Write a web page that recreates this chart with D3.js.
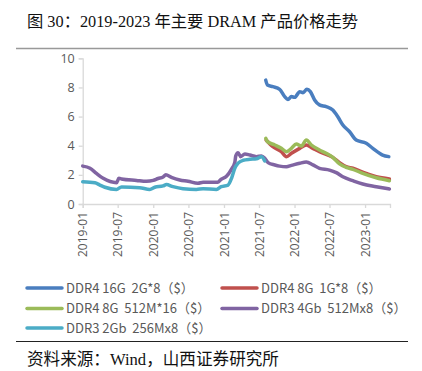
<!DOCTYPE html>
<html>
<head>
<meta charset="utf-8">
<script src="https://cdn.jsdelivr.net/npm/d3@7"></script>
<style>
  body { margin: 0; background: #fff; }
  text { white-space: pre; }
</style>
</head>
<body>
<div class="d3Chart"></div>
<script>
// 系列名称与颜色
var seriesNames = ["DDR4 16G  2G*8（$）", "DDR4 8G  1G*8（$）", "DDR4 8G  512M*16（$）", "DDR3 4Gb  512Mx8（$）", "DDR3 2Gb  256Mx8（$）"];
var bColor = ["#4a7ebf", "#c0504d", "#9bbb59", "#8064a2", "#4bacc6"];

// 各系列数据 [日期, 价格]
var ddr4_16g = [
  ["2021-08-05", 8.5], ["2021-08-14", 8.17], ["2021-09-11", 8.05], ["2021-10-16", 7.87],
  ["2021-11-11", 7.37], ["2021-11-28", 7.18], ["2021-12-16", 7.37], ["2022-01-02", 7.32],
  ["2022-01-28", 7.71], ["2022-02-14", 7.64], ["2022-03-06", 7.87], ["2022-03-24", 7.71],
  ["2022-04-15", 7.14], ["2022-05-10", 6.8], ["2022-06-14", 6.68], ["2022-07-18", 6.45],
  ["2022-08-13", 5.99], ["2022-09-08", 5.42], ["2022-10-13", 4.96], ["2022-11-16", 4.39],
  ["2023-01-07", 4.17], ["2023-02-10", 3.82], ["2023-04-02", 3.36], ["2023-05-04", 3.25]
];
var ddr4_8g_1g = [
  ["2021-08-07", 4.39], ["2021-09-11", 3.93], ["2021-10-25", 3.59], ["2021-11-20", 3.25],
  ["2021-12-16", 3.48], ["2022-01-28", 3.82], ["2022-03-03", 4.05], ["2022-04-06", 3.82],
  ["2022-05-10", 3.59], ["2022-07-18", 3.2], ["2022-08-22", 2.84], ["2022-09-25", 2.56],
  ["2022-10-30", 2.45], ["2023-01-07", 2.1], ["2023-02-28", 1.87], ["2023-05-07", 1.72]
];
var ddr4_8g_512m = [
  ["2021-08-05", 4.51], ["2021-08-14", 4.28], ["2021-09-21", 4.05], ["2021-10-25", 3.82],
  ["2021-11-20", 3.59], ["2021-12-16", 3.82], ["2022-01-10", 4.12], ["2022-02-05", 3.98],
  ["2022-03-03", 4.39], ["2022-03-29", 4.05], ["2022-05-10", 3.71], ["2022-06-14", 3.48],
  ["2022-07-18", 3.2], ["2022-08-22", 2.75], ["2022-09-25", 2.52], ["2022-10-30", 2.38],
  ["2022-12-20", 2.1], ["2023-02-28", 1.8], ["2023-05-07", 1.6]
];
var ddr3_4gb = [
  ["2019-01-01", 2.6], ["2019-02-08", 2.45], ["2019-03-13", 2.1], ["2019-04-17", 1.76],
  ["2019-06-25", 1.46], ["2019-07-07", 1.76], ["2019-07-21", 1.72], ["2019-10-06", 1.62],
  ["2019-11-27", 1.56], ["2020-01-01", 1.62], ["2020-01-26", 1.75], ["2020-02-21", 1.85],
  ["2020-03-06", 2.0], ["2020-04-04", 1.83], ["2020-05-17", 1.65], ["2020-06-29", 1.56],
  ["2020-08-19", 1.42], ["2020-09-15", 1.5], ["2020-11-05", 1.5], ["2020-11-29", 1.5],
  ["2020-12-18", 1.7], ["2021-01-14", 1.9], ["2021-02-09", 2.4], ["2021-02-26", 2.85],
  ["2021-03-03", 3.3], ["2021-03-15", 3.52], ["2021-03-28", 3.25], ["2021-04-19", 3.43],
  ["2021-05-15", 3.36], ["2021-06-18", 3.25], ["2021-07-14", 3.3], ["2021-07-31", 3.14],
  ["2021-08-17", 2.84], ["2021-09-21", 2.68], ["2021-10-16", 2.6], ["2021-11-20", 2.56],
  ["2021-12-16", 2.65], ["2022-01-28", 2.8], ["2022-03-03", 2.88], ["2022-04-06", 2.68],
  ["2022-05-10", 2.45], ["2022-07-01", 2.33], ["2022-08-05", 2.15], ["2022-09-08", 1.87],
  ["2022-10-30", 1.6], ["2022-12-20", 1.37], ["2023-02-28", 1.19], ["2023-05-07", 1.03]
];
var ddr3_2gb = [
  ["2019-01-01", 1.53], ["2019-03-05", 1.46], ["2019-03-31", 1.3], ["2019-04-26", 1.15],
  ["2019-06-25", 1.0], ["2019-07-21", 1.17], ["2019-10-23", 1.12], ["2019-12-14", 1.0],
  ["2020-01-09", 1.15], ["2020-02-21", 1.24], ["2020-03-09", 1.33], ["2020-04-12", 1.19],
  ["2020-06-03", 1.05], ["2020-08-11", 1.0], ["2020-09-15", 1.05], ["2020-11-23", 1.0],
  ["2020-12-18", 1.19], ["2021-01-22", 1.3], ["2021-02-10", 1.8], ["2021-02-26", 2.45],
  ["2021-03-15", 2.8], ["2021-04-10", 3.0], ["2021-05-15", 3.07], ["2021-06-18", 3.1],
  ["2021-07-14", 3.25], ["2021-07-31", 2.95]
];
var dataArr = [ddr4_16g, ddr4_8g_1g, ddr4_8g_512m, ddr3_4gb, ddr3_2gb];

// 坐标轴刻度
var xTicks = ["2019-01", "2019-07", "2020-01", "2020-07", "2021-01", "2021-07", "2022-01", "2022-07", "2023-01"];
var yTicks = [0, 2, 4, 6, 8, 10];

var width = 422;
var height = 371;
var parse = d3.timeParse("%Y-%m-%d");
var parseM = d3.timeParse("%Y-%m");

var svg = d3.select(".d3Chart").append("svg")
  .attr("width", width)
  .attr("height", height)
  .style("font-family", "'Noto Sans CJK SC', 'Noto Sans', sans-serif");

// 标题
svg.append("text")
  .attr("x", 27).attr("y", 27)
  .style("font-family", "'Liberation Serif', 'Noto Sans CJK SC', serif")
  .style("font-size", "16.3px")
  .attr("fill", "#111")
  .text("图 30：2019-2023 年主要 DRAM 产品价格走势");
svg.append("line")
  .attr("x1", 16).attr("x2", 408).attr("y1", 48.5).attr("y2", 48.5)
  .attr("stroke", "#999").attr("stroke-width", 1.5);

// 比例尺
var xScale = d3.scaleTime()
  .domain([parse("2019-01-01"), parse("2023-05-10")])
  .range([82.7, 390]);
var yScale = d3.scaleLinear().domain([0, 10]).range([204, 58.3]);

// Y 轴
var yAxis = d3.axisLeft(yScale).tickValues(yTicks).tickSize(4).tickPadding(4);
var gy = svg.append("g").attr("transform", "translate(82.7,0)").call(yAxis);
gy.selectAll("text").style("font-size", "12.5px").attr("fill", "#595959")
  .style("font-family", "'Open Sans', 'Noto Sans', sans-serif");

// X 轴
var xAxis = d3.axisBottom(xScale)
  .tickValues(xTicks.map(function (d) { return parseM(d); }))
  .tickFormat(d3.timeFormat("%Y-%m"))
  .tickSize(4).tickPadding(4);
var gx = svg.append("g").attr("transform", "translate(0,204)").call(xAxis);
gx.selectAll("text")
  .attr("transform", "rotate(-90)")
  .attr("x", -8).attr("y", 0).attr("dy", "0.35em")
  .style("text-anchor", "end")
  .style("font-size", "12px")
  .style("font-family", "'Open Sans', 'Noto Sans', sans-serif")
  .attr("fill", "#595959");

svg.selectAll(".domain, .tick line").attr("stroke", "#d9d9d9").attr("stroke-width", 1.3);

// 折线
var line = d3.line()
  .x(function (d) { return xScale(parse(d[0])); })
  .y(function (d) { return yScale(d[1]); })
  .curve(d3.curveMonotoneX);

svg.append("g").selectAll("path")
  .data(dataArr)
  .enter().append("path")
  .attr("d", line)
  .attr("fill", "none")
  .attr("stroke", function (d, i) { return bColor[i]; })
  .attr("stroke-width", 3.5)
  .attr("stroke-linejoin", "round")
  .attr("stroke-linecap", "round");

// 图例
var legendPos = [[27, 288], [222, 288], [27, 308.5], [222, 308.5], [27, 328]];
var lg = svg.append("g").selectAll("g")
  .data(seriesNames)
  .enter().append("g")
  .attr("transform", function (d, i) { return "translate(" + legendPos[i][0] + "," + legendPos[i][1] + ")"; });
lg.append("line")
  .attr("x1", 0).attr("x2", 35)
  .attr("stroke", function (d, i) { return bColor[i]; })
  .attr("stroke-width", 3.5)
  .attr("stroke-linecap", "round");
lg.append("text")
  .attr("x", 39).attr("dy", "0.36em")
  .style("font-size", "13px")
  .attr("fill", "#595959")
  .text(function (d) { return d; });

// 来源
svg.append("line")
  .attr("x1", 16).attr("x2", 408).attr("y1", 341.5).attr("y2", 341.5)
  .attr("stroke", "#222").attr("stroke-width", 1);
svg.append("text")
  .attr("x", 27).attr("y", 365)
  .style("font-family", "'Liberation Serif', 'Noto Sans CJK SC', serif")
  .style("font-size", "16.6px")
  .attr("fill", "#111")
  .text("资料来源：Wind，山西证券研究所");
</script>
</body>
</html>
